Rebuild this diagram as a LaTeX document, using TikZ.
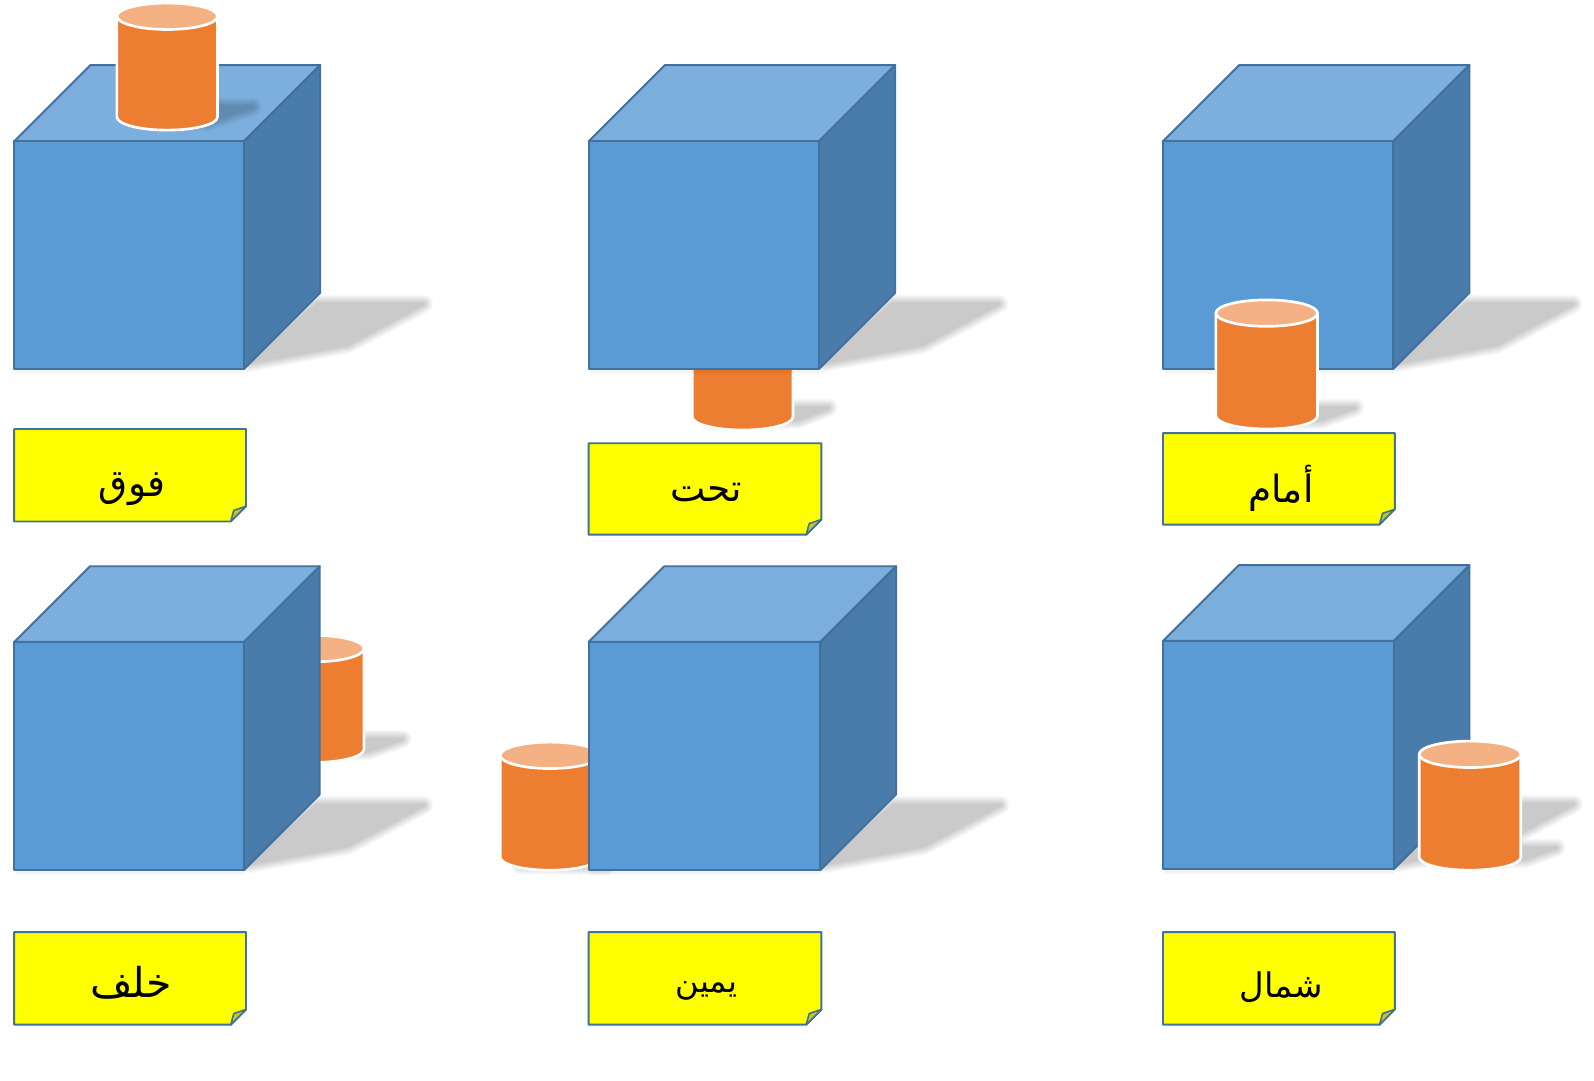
\documentclass[tikz,border=0pt]{standalone}
\usepackage{fontspec}
\newfontfamily\arabicfont[Script=Arabic]{DejaVu Sans}
\TeXXeTstate=1
\definecolor{cubefront}{HTML}{5B9BD5}
\definecolor{cubetop}{HTML}{7CAFDE}
\definecolor{cubeside}{HTML}{4A7CAB}
\definecolor{cubeline}{HTML}{41719C}
\definecolor{cylbody}{HTML}{ED7D31}
\definecolor{cyltop}{HTML}{F4B183}
\definecolor{notefold}{HTML}{C6C622}
\definecolor{notefill}{RGB}{255,255,0}
\tikzset{
  x=0.02cm,y=-0.02cm,
  cubeface/.style={draw=cubeline,line width=1.1pt,line join=round},
  cylline/.style={draw=white,line width=1.5pt,line join=round},
  notebox/.style={fill=notefill,draw=cubeline,line width=1.1pt,line join=round},
  foldbox/.style={fill=notefold,draw=cubeline,line width=0.9pt,line join=round},
  notetext/.style={inner sep=0pt,text=black,font=\arabicfont\fontsize{21}{25}\selectfont},
  softlayer/.style={draw=black,fill=black,line join=round}
}
% blurred shadow: #1 is a closed path, each layer a little smaller than the last
\newcommand{\softshadow}[1]{%
  \foreach \w in {18,16,14,12,10,8,6,4,2}{%
    \begin{scope}[transparency group,opacity=0.0245]
      \path[softlayer,line width=\w*0.02cm] #1;
    \end{scope}%
  }%
}
% cube: left, top of front face, width, height, depth
\newcommand{\cubeshape}[5]{%
  \softshadow{(#1+#3+5,#2+#4-6) -- (#1+#3+102,#2+#4-24) -- (#1+#3+177,#2+#4-64) -- (#1+#3+72,#2+#4-64) -- cycle}
  \path[draw=black,draw opacity=0.025,line width=5*0.02cm] (#1+2,#2+#4+2) -- (#1+#3,#2+#4+2);
  \path[draw=black,draw opacity=0.025,line width=3*0.02cm] (#1+2,#2+#4+2) -- (#1+#3,#2+#4+2);
  \path[cubeface,fill=cubetop] (#1,#2) -- (#1+#5,#2-#5) -- (#1+#3+#5,#2-#5) -- (#1+#3,#2) -- cycle;
  \path[cubeface,fill=cubeside] (#1+#3,#2) -- (#1+#3+#5,#2-#5) -- (#1+#3+#5,#2+#4-#5) -- (#1+#3,#2+#4) -- cycle;
  \path[cubeface,fill=cubefront] (#1,#2) rectangle (#1+#3,#2+#4);
}
% cylinder: left, top, width, height
\newcommand{\cylshape}[4]{%
  \path[cylline,fill=cylbody] (#1,#2+13) -- (#1,#2+#4-13)
    arc[start angle=180,end angle=360,x radius={(#3)/2*0.02cm},y radius={13*0.02cm}]
    -- (#1+#3,#2+13) -- cycle;
  \path[cylline,fill=cyltop] (#1+#3/2,#2+13) ellipse [x radius={(#3)/2*0.02cm},y radius={13*0.02cm}];
}
% note: name, left, top, right, bottom, text x, text y, text
\newcommand{\noteshape}[8]{%
  \path[notebox] (#2,#3) -- (#4,#3) -- (#4,#5-15) -- (#4-15,#5) -- (#2,#5) -- cycle;
  \path[foldbox] (#4,#5-15) -- (#4-12,#5-11) -- (#4-15,#5) -- cycle;
  \node[notetext] (#1) at (#6,#7) {\beginR #8\endR};
}
\begin{document}
\begin{tikzpicture}
\useasboundingbox[fill=white] (0,0) rectangle (1568,1063.36);

% top left: above
\cubeshape{14}{139}{226}{224}{75}
\softshadow{(140,118) -- (205,120) -- (249,105) -- (208,105) -- cycle}
\cylshape{115}{3}{99}{125}
\noteshape{n1}{14}{422}{242}{513}{130}{481}{فوق}

% top middle: under
\softshadow{(700,415) -- (785,413) -- (815,401) -- (772,401) -- cycle}
\cylshape{681}{297}{99}{126}
\cubeshape{579}{139}{226.5}{224}{75}
\noteshape{n2}{579}{436}{808}{526}{695}{484}{تحت}

% top right: in front
\cubeshape{1144}{139}{226.5}{224}{75}
\softshadow{(1215,415) -- (1300,413) -- (1333,401) -- (1290,401) -- cycle}
\cylshape{1196}{295}{100}{127}
\noteshape{n3}{1144}{426}{1372}{516}{1260}{480}{أمام}

% bottom left: behind
\softshadow{(280,741) -- (362,739) -- (396,727) -- (350,727) -- cycle}
\cylshape{260}{625}{98}{125}
\cubeshape{14}{631.5}{226}{224.5}{74.5}
\noteshape{n4}{14}{917}{242}{1008}{129}{967}{{\fontsize{23}{26}\selectfont خلف}}

% bottom middle: right
\softshadow{(512,851) -- (596,852) -- (590,850) -- cycle}
\cylshape{492}{730}{98}{126}
\cubeshape{579}{631.5}{228}{224.5}{74.5}
\noteshape{n5}{579}{917}{808}{1008}{695}{975}{{\fontsize{18}{21}\selectfont يمين}}

% bottom right: left
\cubeshape{1144}{630.5}{227}{224.5}{74.5}
\softshadow{(1415,847) -- (1500,845) -- (1531,834) -- (1490,834) -- cycle}
\cylshape{1396}{729}{100}{127}
\noteshape{n6}{1144}{917}{1372}{1008}{1260}{971}{{\fontsize{19}{22}\selectfont شمال}}
\end{tikzpicture}
\end{document}
